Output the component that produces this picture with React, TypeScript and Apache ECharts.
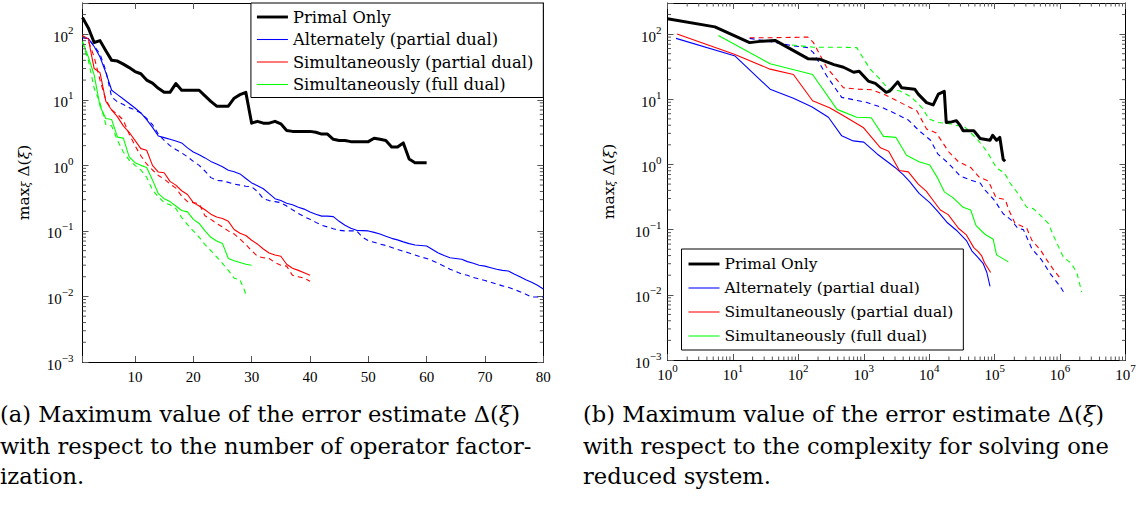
import React, { useEffect, useRef } from "react";
import * as echarts from "echarts";

const SERIF = "'DejaVu Serif', 'Liberation Serif', serif";
const NUMF = "'Liberation Serif', 'DejaVu Serif', serif";

const LEGEND_NAMES = [
  "Primal Only",
  "Alternately (partial dual)",
  "Simultaneously (partial dual)",
  "Simultaneously (full dual)",
];

// ---------- Left chart: x = number of operator factorizations (1, 2, 3, ...) ----------
const factPrimal = [180, 125, 75, 80, 56, 40, 39, 35, 31, 27, 25, 20, 18, 15, 13, 13, 17.7, 14, 14, 14, 14, 11.5, 9.5, 8, 8, 8, 10.6, 12, 13, 4.4, 4.7, 4.4, 4.4, 4.7, 4.3, 3.4, 3.3, 3.3, 3.3, 3.3, 3.2, 3.0, 3.0, 2.5, 2.4, 2.4, 2.3, 2.3, 2.3, 2.3, 2.6, 2.5, 2.4, 1.9, 1.9, 2.2, 1.25, 1.1, 1.1, 1.1];
const factAltSolid = [90, 86, 65, 45, 26, 14, 12, 10.3, 8.8, 7.5, 6.3, 5.0, 3.8, 2.8, 2.65, 2.5, 2.35, 2.2, 1.85, 1.6, 1.45, 1.3, 1.15, 1.05, 0.95, 0.84, 0.8, 0.74, 0.63, 0.54, 0.49, 0.44, 0.37, 0.31, 0.29, 0.265, 0.25, 0.23, 0.215, 0.195, 0.18, 0.168, 0.168, 0.165, 0.14, 0.122, 0.11, 0.102, 0.101, 0.1, 0.095, 0.09, 0.083, 0.077, 0.073, 0.068, 0.064, 0.061, 0.06, 0.059, 0.052, 0.046, 0.042, 0.039, 0.038, 0.037, 0.034, 0.032, 0.03, 0.029, 0.0275, 0.026, 0.025, 0.0245, 0.022, 0.02, 0.018, 0.0165, 0.0148, 0.013];
const factAltDashed = [88, 86, 66, 50, 28, 11, 9.3, 8.5, 7.6, 7.0, 6.3, 5.2, 4.2, 3.0, 2.4, 2.0, 1.75, 1.55, 1.35, 1.15, 1.0, 0.82, 0.65, 0.59, 0.58, 0.55, 0.52, 0.5, 0.48, 0.47, 0.4, 0.31, 0.29, 0.28, 0.27, 0.24, 0.21, 0.185, 0.165, 0.15, 0.135, 0.122, 0.115, 0.108, 0.102, 0.1, 0.1, 0.1, 0.08, 0.071, 0.067, 0.063, 0.06, 0.056, 0.052, 0.049, 0.046, 0.043, 0.04, 0.038, 0.035, 0.032, 0.029, 0.026, 0.024, 0.022, 0.021, 0.0195, 0.0185, 0.0175, 0.0165, 0.0155, 0.0145, 0.0138, 0.0128, 0.0118, 0.0108, 0.0098, 0.0098, 0.0098];
const factSimPartSolid = [95, 85, 30, 26, 9.5, 7.0, 5.5, 4.0, 3.2, 2.4, 1.8, 1.7, 1.0, 0.79, 0.77, 0.57, 0.5, 0.41, 0.36, 0.27, 0.24, 0.21, 0.18, 0.163, 0.155, 0.14, 0.105, 0.092, 0.085, 0.072, 0.063, 0.053, 0.046, 0.043, 0.041, 0.031, 0.027, 0.025, 0.023, 0.021];
const factSimPartDashed = [95, 80, 45, 20, 10, 7.0, 6.0, 4.9, 3.0, 2.0, 1.4, 1.05, 0.85, 0.7, 0.62, 0.52, 0.45, 0.34, 0.28, 0.27, 0.26, 0.17, 0.15, 0.13, 0.115, 0.1, 0.09, 0.075, 0.062, 0.05, 0.041, 0.039, 0.038, 0.033, 0.03, 0.029, 0.021, 0.02, 0.019, 0.017];
const factSimFullSolid = [78, 45, 24, 8, 5.2, 5.0, 2.7, 2.6, 1.35, 1.1, 1.0, 0.93, 0.6, 0.37, 0.31, 0.28, 0.24, 0.205, 0.195, 0.15, 0.13, 0.1, 0.08, 0.07, 0.064, 0.038, 0.035, 0.033, 0.031, 0.03];
const factSimFullDashed = [75, 40, 15, 9, 4.2, 4.0, 2.4, 1.6, 1.2, 1.0, 0.85, 0.66, 0.42, 0.33, 0.27, 0.25, 0.22, 0.16, 0.125, 0.1, 0.08, 0.062, 0.05, 0.04, 0.032, 0.025, 0.019, 0.018, 0.011];

// ---------- Right chart: [complexity, max error] ----------
const cplxPrimal: [number, number][] = [[1, 172], [5.3, 129], [18, 74], [28, 78], [44, 80], [140, 42], [215, 41], [350, 34], [490, 31], [700, 26], [850, 27], [1170, 19], [1500, 17.5], [2200, 12.8], [2500, 13.4], [3300, 18.5], [3800, 15], [6000, 14.3], [6800, 12], [9100, 8.9], [11500, 8.2], [13800, 12], [17000, 13.2], [18200, 4.4], [22000, 4.5], [26000, 4.7], [29500, 4.0], [33000, 3.3], [48000, 3.3], [60000, 2.5], [85000, 2.35], [93000, 2.8], [107000, 2.35], [120000, 2.6], [135000, 1.2], [145000, 1.12]];
const cplxAltSolid: [number, number][] = [[1.35, 86], [10.8, 46], [37, 14.3], [84, 10.4], [160, 7.7], [288, 5.3], [460, 2.75], [690, 2.3], [1000, 2.2], [1600, 1.45], [2300, 1.1], [3000, 0.9], [4000, 0.7], [5000, 0.55], [7000, 0.36], [10200, 0.26], [13500, 0.19], [18600, 0.13], [26000, 0.098], [37000, 0.068], [45000, 0.047], [55000, 0.038], [67000, 0.03], [76000, 0.022], [85000, 0.0135]];
const cplxAltDashed: [number, number][] = [[18, 86], [39, 76], [84, 66], [140, 62], [170, 52], [270, 23], [460, 10.7], [830, 9.5], [1120, 8.9], [1900, 7.5], [3200, 5.9], [4800, 4.8], [7000, 3.3], [10500, 2.35], [13500, 1.45], [19500, 1.05], [30000, 0.66], [42000, 0.58], [60000, 0.52], [72000, 0.4], [100000, 0.28], [135000, 0.175], [180000, 0.14], [225000, 0.105], [275000, 0.1], [370000, 0.051], [525000, 0.034], [710000, 0.021], [1000000, 0.0135], [1200000, 0.01]];
const cplxSimPartSolid: [number, number][] = [[1.4, 100], [10.5, 49], [37, 29], [84, 24], [165, 9.5], [300, 7.4], [490, 5.6], [980, 3.7], [1800, 1.8], [2400, 1.6], [3500, 0.81], [4800, 0.77], [6800, 0.5], [9000, 0.39], [11500, 0.28], [14800, 0.2], [19500, 0.17], [28000, 0.105], [37000, 0.083], [48000, 0.053], [56000, 0.046], [63000, 0.04], [70000, 0.031], [87000, 0.022]];
const cplxSimPartDashed: [number, number][] = [[18, 88], [42, 88], [140, 90], [170, 74], [270, 31], [490, 15], [830, 14.3], [1300, 14], [2000, 12], [3200, 9.5], [5100, 7.5], [6500, 6.6], [9100, 3.5], [12800, 3.05], [20000, 1.55], [28000, 1.1], [43000, 0.9], [58000, 0.64], [80000, 0.56], [105000, 0.31], [145000, 0.29], [165000, 0.2], [205000, 0.125], [310000, 0.105], [370000, 0.069], [500000, 0.049], [630000, 0.034], [800000, 0.024], [1000000, 0.018]];
const cplxSimFullSolid: [number, number][] = [[6, 95], [37, 35], [165, 24], [390, 7.0], [780, 5.3], [1300, 5.2], [2000, 2.7], [3100, 2.6], [4500, 1.38], [7000, 1.1], [10200, 0.98], [13200, 0.64], [17000, 0.38], [23000, 0.31], [33000, 0.22], [43000, 0.2], [52000, 0.115], [71000, 0.085], [95000, 0.071], [107000, 0.041], [162000, 0.032]];
const cplxSimFullDashed: [number, number][] = [[80, 68], [170, 63], [440, 63], [780, 62], [1250, 29], [1800, 20], [2400, 14.3], [3600, 13.4], [5400, 10.7], [8100, 7.1], [9800, 5.0], [13800, 4.4], [21000, 4.2], [35500, 3.7], [54000, 2.45], [76000, 1.6], [107000, 0.88], [140000, 0.75], [174000, 0.51], [229000, 0.355], [309000, 0.22], [389000, 0.21], [500000, 0.166], [660000, 0.125], [850000, 0.069], [1120000, 0.038], [1510000, 0.03], [1820000, 0.021], [2140000, 0.011]];

// ---------- Axis ticks ----------
const Y_MIN = 0.001;
const Y_MAX = 300;
const DECADES_Y = [-3, -2, -1, 0, 1, 2];
const DECADES_X = [0, 1, 2, 3, 4, 5, 6];
const MINOR_MULT = [2, 3, 4, 5, 6, 7, 8, 9];

const BLACK = "#000000";
const BLUE = "#0000ff";
const RED = "#ff0000";
const GREEN = "#00ff00";
const TICK = "#555555";
const MAJOR_LEN = 6;
const MINOR_LEN = 3.5;

const idx = (arr: number[]) => arr.map((v, i) => [i + 1, v]);

const supLabel = (v: number) => {
  const e = Math.log10(v);
  const r = Math.round(e);
  if (Math.abs(e - r) > 1e-6) return "";
  return `{b|10}{s|${r < 0 ? "\u2212" + -r : r}}`;
};
const supRich = {
  b: { fontFamily: NUMF, fontSize: 15, color: "#000", lineHeight: 20, verticalAlign: "bottom" },
  s: { fontFamily: NUMF, fontSize: 11, color: "#000", lineHeight: 9, verticalAlign: "top" },
};

const nameRich = {
  m: { fontFamily: SERIF, fontSize: 15.5, color: "#000", lineHeight: 20, verticalAlign: "bottom" },
  i: { fontFamily: SERIF, fontSize: 15.5, fontStyle: "italic", color: "#000", lineHeight: 20, verticalAlign: "bottom" },
  sub: { fontFamily: SERIF, fontSize: 11, fontStyle: "italic", color: "#000", lineHeight: 10, verticalAlign: "bottom" },
};
const Y_NAME = "{m|max}{sub|\u03be}{m| \u0394(}{i|\u03be}{m|)}";

function line(name: string, data: any[], color: string, width: number, dashed: boolean, xi: number, yi: number, z: number) {
  return {
    type: "line",
    name,
    data,
    xAxisIndex: xi,
    yAxisIndex: yi,
    showSymbol: false,
    symbol: "none",
    silent: true,
    z,
    lineStyle: { color, width, type: dashed ? [5, 4] : "solid", join: "round" },
    itemStyle: { color },
  };
}

function minorYTicks(xi: number, yi: number, xVal: number) {
  const vals: number[] = [];
  DECADES_Y.forEach((e) => MINOR_MULT.forEach((m) => {
    const v = m * Math.pow(10, e);
    if (v < Y_MAX) vals.push(v);
  }));
  return {
    type: "custom",
    xAxisIndex: xi,
    yAxisIndex: yi,
    silent: true,
    z: 5,
    data: vals.map((v) => [xVal, v]),
    renderItem: (params: any, api: any) => {
      const cs = params.coordSys;
      const y = api.coord([api.value(0), api.value(1)])[1];
      return {
        type: "group",
        children: [
          { type: "line", shape: { x1: cs.x, y1: y, x2: cs.x + MINOR_LEN, y2: y }, style: { stroke: TICK, lineWidth: 1 } },
          { type: "line", shape: { x1: cs.x + cs.width - MINOR_LEN, y1: y, x2: cs.x + cs.width, y2: y }, style: { stroke: TICK, lineWidth: 1 } },
        ],
      };
    },
  };
}

function minorXTicks(xi: number, yi: number, yVal: number) {
  const vals: number[] = [];
  DECADES_X.forEach((e) => MINOR_MULT.forEach((m) => vals.push(m * Math.pow(10, e))));
  return {
    type: "custom",
    xAxisIndex: xi,
    yAxisIndex: yi,
    silent: true,
    z: 5,
    data: vals.map((v) => [v, yVal]),
    renderItem: (params: any, api: any) => {
      const cs = params.coordSys;
      const x = api.coord([api.value(0), api.value(1)])[0];
      return {
        type: "group",
        children: [
          { type: "line", shape: { x1: x, y1: cs.y, x2: x, y2: cs.y + MINOR_LEN }, style: { stroke: TICK, lineWidth: 1 } },
          { type: "line", shape: { x1: x, y1: cs.y + cs.height - MINOR_LEN, x2: x, y2: cs.y + cs.height }, style: { stroke: TICK, lineWidth: 1 } },
        ],
      };
    },
  };
}

const axisLine = { show: true, onZero: false, lineStyle: { color: "#000", width: 1 } };
const axisTick = { show: true, inside: true, length: MAJOR_LEN, lineStyle: { color: TICK, width: 1 } };

const legendData = LEGEND_NAMES.map((name, i) => ({
  name,
  icon: i === 0 ? "path://M0,0H32V3H0Z" : "path://M0,0H32V1.1H0Z",
}));

function legendCfg(pos: any, fontSize: number, gap: number, pad: number[]) {
  return {
    ...pos,
    data: legendData,
    orient: "vertical",
    selectedMode: false,
    itemWidth: 31,
    itemHeight: 12,
    itemGap: gap,
    symbolKeepAspect: true,
    padding: pad,
    borderColor: "#000",
    borderWidth: 1,
    borderRadius: 0,
    backgroundColor: "#fff",
    textStyle: { fontFamily: SERIF, fontSize, color: "#000", fontWeight: "normal" },
    z: 20,
  };
}

function caption(x: number, y: number, text: string) {
  return {
    type: "text",
    x,
    y,
    silent: true,
    style: {
      text,
      fontFamily: SERIF,
      fontSize: 22.6,
      fill: "#000",
      align: "left",
      verticalAlign: "middle",
      textAlign: "left",
      textVerticalAlign: "middle",
      rich: { i: { fontFamily: SERIF, fontSize: 22.6, fontStyle: "italic", fill: "#000" } },
    },
  };
}

export default function App() {
  const ref = useRef<HTMLDivElement>(null);
  useEffect(() => {
    if (!ref.current) return;
    const chart = echarts.init(ref.current, undefined, { renderer: "svg" });
    const option: any = {
      animation: false,
      backgroundColor: "#fff",
      textStyle: { fontFamily: SERIF, color: "#000" },
      grid: [
        { left: 82.5, right: 1147 - 543.3, top: 3, bottom: 510 - 362 },
        { left: 667.5, right: 1147 - 1125.5, top: 3, bottom: 510 - 360 },
      ],
      xAxis: [
        {
          gridIndex: 0, type: "value", min: 1, max: 80, splitNumber: 8, position: "bottom",
          axisLine, axisTick, splitLine: { show: false },
          axisLabel: { formatter: (v: number) => (v % 10 === 0 ? String(v) : ""), fontFamily: NUMF, fontSize: 15, color: "#000", margin: 7 },
        },
        {
          gridIndex: 0, type: "value", min: 1, max: 80, splitNumber: 8, position: "top",
          axisLine, axisTick, splitLine: { show: false }, axisLabel: { show: false },
        },
        {
          gridIndex: 1, type: "log", logBase: 10, min: 1, max: 1e7, position: "bottom",
          axisLine, axisTick, splitLine: { show: false },
          axisLabel: { formatter: supLabel, rich: supRich, fontFamily: NUMF, margin: 2 },
        },
        {
          gridIndex: 1, type: "log", logBase: 10, min: 1, max: 1e7, position: "top",
          axisLine, axisTick, splitLine: { show: false }, axisLabel: { show: false },
        },
      ],
      yAxis: [
        {
          gridIndex: 0, type: "log", logBase: 10, min: Y_MIN, max: Y_MAX, position: "left",
          axisLine, axisTick, splitLine: { show: false },
          axisLabel: { formatter: supLabel, rich: supRich, fontFamily: NUMF, margin: 9 },
          name: Y_NAME, nameLocation: "middle", nameGap: 51, nameTextStyle: { rich: nameRich, fontFamily: SERIF },
        },
        {
          gridIndex: 0, type: "log", logBase: 10, min: Y_MIN, max: Y_MAX, position: "right",
          axisLine, axisTick, splitLine: { show: false }, axisLabel: { show: false },
        },
        {
          gridIndex: 1, type: "log", logBase: 10, min: Y_MIN, max: Y_MAX, position: "left",
          axisLine, axisTick, splitLine: { show: false },
          axisLabel: { formatter: supLabel, rich: supRich, fontFamily: NUMF, margin: 6 },
          name: Y_NAME, nameLocation: "middle", nameGap: 51, nameTextStyle: { rich: nameRich, fontFamily: SERIF },
        },
        {
          gridIndex: 1, type: "log", logBase: 10, min: Y_MIN, max: Y_MAX, position: "right",
          axisLine, axisTick, splitLine: { show: false }, axisLabel: { show: false },
        },
      ],
      legend: [
        legendCfg({ right: 1147 - 543.3, top: 3 }, 16.3, 6.5, [6, 10, 5, 6]),
        legendCfg({ left: 681.5, top: 249 }, 15.5, 8, [7, 10, 6, 7]),
      ],
      series: [
        minorYTicks(0, 0, 1),
        minorYTicks(2, 2, 1),
        minorXTicks(2, 2, 1),
        line("Alternately (partial dual), dashed", idx(factAltDashed), BLUE, 1.1, true, 0, 0, 2),
        line("Simultaneously (partial dual), dashed", idx(factSimPartDashed), RED, 1.1, true, 0, 0, 2),
        line("Simultaneously (full dual), dashed", idx(factSimFullDashed), GREEN, 1.1, true, 0, 0, 2),
        line(LEGEND_NAMES[1], idx(factAltSolid), BLUE, 1.1, false, 0, 0, 3),
        line(LEGEND_NAMES[2], idx(factSimPartSolid), RED, 1.1, false, 0, 0, 3),
        line(LEGEND_NAMES[3], idx(factSimFullSolid), GREEN, 1.1, false, 0, 0, 3),
        line(LEGEND_NAMES[0], idx(factPrimal), BLACK, 3, false, 0, 0, 4),
        line("Alternately (partial dual), dashed ", cplxAltDashed, BLUE, 1.1, true, 2, 2, 2),
        line("Simultaneously (partial dual), dashed ", cplxSimPartDashed, RED, 1.1, true, 2, 2, 2),
        line("Simultaneously (full dual), dashed ", cplxSimFullDashed, GREEN, 1.1, true, 2, 2, 2),
        line(LEGEND_NAMES[1], cplxAltSolid, BLUE, 1.1, false, 2, 2, 3),
        line(LEGEND_NAMES[2], cplxSimPartSolid, RED, 1.1, false, 2, 2, 3),
        line(LEGEND_NAMES[3], cplxSimFullSolid, GREEN, 1.1, false, 2, 2, 3),
        line(LEGEND_NAMES[0], cplxPrimal, BLACK, 3, false, 2, 2, 4),
      ],
      graphic: [
        caption(0, 414, "(a) Maximum value of the error estimate \u0394({i|\u03be})"),
        caption(0, 446, "with respect to the number of operator factor-"),
        caption(0, 476, "ization."),
        caption(583, 414, "(b) Maximum value of the error estimate \u0394({i|\u03be})"),
        caption(583, 446, "with respect to the complexity for solving one"),
        caption(583, 476, "reduced system."),
      ],
    };
    chart.setOption(option);
    return () => chart.dispose();
  }, []);
  return (
    <div
      ref={ref}
      style={{ position: "fixed", left: 0, top: 0, width: 1147, height: 510, background: "#fff" }}
    />
  );
}
